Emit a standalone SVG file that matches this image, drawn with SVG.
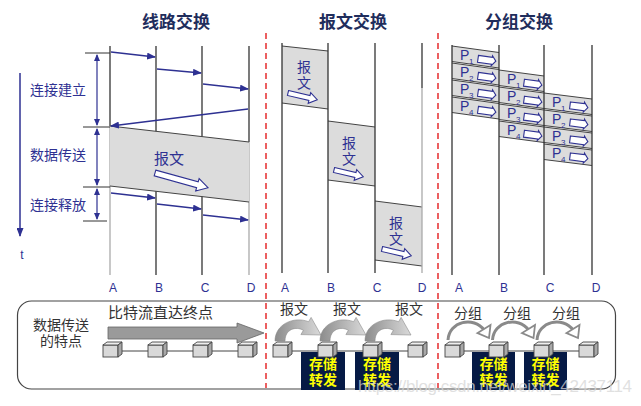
<svg xmlns="http://www.w3.org/2000/svg" width="641" height="406" viewBox="0 0 641 406">
<defs>
<style>
.title{font-family:"Noto Sans CJK SC","Noto Sans",sans-serif;font-size:17px;font-weight:bold;fill:#1f2d5c;text-anchor:middle}
.lbl{font-family:"Noto Sans CJK SC",sans-serif;font-size:14px;fill:#2e3192;text-anchor:middle}
.abcd{font-family:"Liberation Sans",sans-serif;font-size:12px;fill:#2e3192;text-anchor:middle}
.pt{font-family:"Liberation Sans",sans-serif;font-size:14px;fill:#2e3192}
.ps{font-family:"Liberation Sans",sans-serif;font-size:8px;fill:#2e3192}
.tl{stroke:#333;stroke-width:1.3}
.tlg{stroke:#aaa;stroke-width:1.3}
.conn{stroke:#2e3192;stroke-width:1.5;fill:none;marker-end:url(#ah)}
.dim{stroke:#2e3192;stroke-width:1.2;fill:none;marker-start:url(#dh);marker-end:url(#dh)}
.tick{stroke:#333;stroke-width:1}
.band{fill:#dcdcdc;stroke:none}
.edge{stroke:#444;stroke-width:1;fill:none}
.hollow{fill:#fff;stroke:#2e3192;stroke-width:1.1}
.red{stroke:#e8393a;stroke-width:1.6;stroke-dasharray:6 4;fill:none}
.btxt{font-family:"Noto Sans CJK SC",sans-serif;font-size:14px;fill:#333;text-anchor:middle}
.btl{font-family:"Noto Sans CJK SC",sans-serif;font-size:15px;fill:#333;text-anchor:start}
.sf{fill:#061a45}
.sft{font-family:"Noto Sans CJK SC",sans-serif;font-size:14px;font-weight:bold;fill:#ffff00;text-anchor:middle}
.nf{fill:#d9d9d9;stroke:#444;stroke-width:0.9}
.nt{fill:#efefef;stroke:#444;stroke-width:0.9}
.nr{fill:#a8a8a8;stroke:#444;stroke-width:0.9}
.nline{stroke:#444;stroke-width:1}
.thick{fill:url(#cg);stroke:#8a8a8a;stroke-width:0.6}
.thin{stroke:#8a8a8a;stroke-width:3;fill:none}
.chev{fill:#fff;stroke:#8a8a8a;stroke-width:1.8}
</style>
<marker id="ah" markerWidth="9" markerHeight="7" refX="8" refY="3.5" orient="auto" markerUnits="userSpaceOnUse"><path d="M0,0 L9,3.5 L0,7 z" fill="#2e3192"/></marker>
<marker id="dh" markerWidth="7" markerHeight="7" refX="6" refY="3" orient="auto-start-reverse" markerUnits="userSpaceOnUse"><path d="M0,0 L7,3 L0,6 z" fill="#2e3192"/></marker>
<linearGradient id="cg" x1="0" y1="0" x2="1" y2="0"><stop offset="0" stop-color="#8c8c8c"/><stop offset="1" stop-color="#dadada"/></linearGradient>
<path id="ha" d="M0,-3 L44,-3 L44,-6.5 L55,0 L44,6.5 L44,3 L0,3 Z"/>
<path id="hm" d="M0,-2.5 L22,-2.5 L22,-5.5 L30,0 L22,5.5 L22,2.5 L0,2.5 Z"/>
<path id="hp" d="M0,-3.5 L14,-3.5 L14,-5 L18,0 L14,5 L14,3.5 L0,3.5 Z"/>
<g id="node"><rect class="nf" x="0" y="3" width="15" height="12"/><path class="nt" d="M0,3 L4,0 L19,0 L15,3 Z"/><path class="nr" d="M15,3 L19,0 L19,12 L15,15 Z"/></g>
<path id="bigarc" class="thick" d="M275,341 C275,324 294,316 308.6,321.7 L311.1,317.4 L321,335 L300.9,334.6 L303.4,330.3 C296,326 285,329 285,341 Z"/>
<g id="smallarc"><path class="thin" d="M448,340 C449,321 474,316 484,330"/><path class="chev" d="M490.5,325 L489,338 L477.5,333 Z"/></g>
</defs>

<!-- titles -->
<text class="title" x="176" y="28">线路交换</text>
<text class="title" x="353" y="28">报文交换</text>
<text class="title" x="519" y="28">分组交换</text>

<!-- separators -->
<line class="red" x1="266" y1="33" x2="266" y2="388"/>
<line class="red" x1="438" y1="33" x2="438" y2="388"/>

<!-- circuit switching -->
<g id="circuit">
  <line class="tl" x1="110" y1="46" x2="110" y2="126"/>
  <line class="tlg" x1="110" y1="126" x2="110" y2="275"/>
  <line class="tl" x1="156" y1="46" x2="156" y2="275"/>
  <line class="tl" x1="202" y1="46" x2="202" y2="275"/>
  <line class="tl" x1="249" y1="46" x2="249" y2="142"/>
  <line class="tlg" x1="249" y1="142" x2="249" y2="275"/>
  <polygon class="band" points="110,126 249,142 249,202 110,186"/>
  <line class="edge" x1="110" y1="126" x2="249" y2="142"/>
  <line class="edge" x1="110" y1="186" x2="249" y2="202"/>
  <text class="lbl" x="169" y="164" style="font-size:15px">报文</text>
  <use href="#ha" class="hollow" transform="translate(155,173) rotate(15.5)"/>
  <text class="abcd" x="113" y="292">A</text>
  <text class="abcd" x="159" y="292">B</text>
  <text class="abcd" x="205" y="292">C</text>
  <text class="abcd" x="251" y="292">D</text>
</g>
<g id="circuit-labels">
  <line class="tick" x1="85" y1="53" x2="110" y2="53"/>
  <line class="tick" x1="83" y1="127" x2="110" y2="127"/>
  <line class="tick" x1="83" y1="187" x2="110" y2="187"/>
  <line class="tick" x1="83" y1="221" x2="107" y2="221"/>
  <line class="dim" x1="97" y1="55" x2="97" y2="125"/>
  <line class="dim" x1="97" y1="129" x2="97" y2="185"/>
  <line class="dim" x1="97" y1="189" x2="97" y2="219"/>
  <text class="lbl" x="58" y="95">连接建立</text>
  <text class="lbl" x="58" y="160">数据传送</text>
  <text class="lbl" x="58" y="210">连接释放</text>
  <line stroke="#2e3192" stroke-width="1.5" x1="20" y1="73" x2="20" y2="236" marker-end="url(#ah)"/>
  <text class="abcd" x="22" y="259">t</text>
</g>
<g id="circuit-connectors">
  <line class="conn" x1="111" y1="52" x2="155" y2="57"/>
  <line class="conn" x1="157" y1="69" x2="201" y2="73"/>
  <line class="conn" x1="203" y1="84" x2="248" y2="89"/>
  <line class="conn" x1="248" y1="109" x2="111" y2="126"/>
  <line class="conn" x1="111" y1="193" x2="155" y2="198"/>
  <line class="conn" x1="157" y1="204" x2="201" y2="209"/>
  <line class="conn" x1="203" y1="215" x2="248" y2="220"/>
</g>

<!-- message switching -->
<g id="message">
  <polygon class="band" points="282,46 328,51 328,109 282,103"/>
  <line class="edge" x1="282" y1="46" x2="328" y2="51"/>
  <line class="edge" x1="282" y1="103" x2="328" y2="109"/>
  <polygon class="band" points="328,121 375,127 375,186 328,180"/>
  <line class="edge" x1="328" y1="121" x2="375" y2="127"/>
  <line class="edge" x1="328" y1="180" x2="375" y2="186"/>
  <polygon class="band" points="375,201 422,207 422,266 375,260"/>
  <line class="edge" x1="375" y1="201" x2="422" y2="207"/>
  <line class="edge" x1="375" y1="260" x2="422" y2="266"/>
  <line class="tl" x1="282" y1="43" x2="282" y2="273"/>
  <line class="tl" x1="328" y1="43" x2="328" y2="273"/>
  <line class="tl" x1="375" y1="43" x2="375" y2="273"/>
  <line class="tl" x1="422" y1="43" x2="422" y2="88"/>
  <line class="tlg" x1="422" y1="88" x2="422" y2="273"/>
  <text class="lbl" x="304" y="72">报</text>
  <text class="lbl" x="304" y="88">文</text>
  <use href="#hm" class="hollow" transform="translate(288,93) rotate(13)"/>
  <text class="lbl" x="349" y="148">报</text>
  <text class="lbl" x="349" y="164">文</text>
  <use href="#hm" class="hollow" transform="translate(334,170) rotate(13)"/>
  <text class="lbl" x="396" y="228">报</text>
  <text class="lbl" x="396" y="244">文</text>
  <use href="#hm" class="hollow" transform="translate(382,249) rotate(13)"/>
  <text class="abcd" x="285" y="292">A</text>
  <text class="abcd" x="331" y="292">B</text>
  <text class="abcd" x="377" y="292">C</text>
  <text class="abcd" x="422" y="292">D</text>
</g>

<!-- packet switching -->
<g id="packet">
  <g id="ab">
    <polygon class="band" points="452,46 499,52.5 499,68 452,61.5"/>
    <polygon class="band" points="452,63 499,69.5 499,85 452,78.5"/>
    <polygon class="band" points="452,80 499,86.5 499,102 452,95.5"/>
    <polygon class="band" points="452,97 499,103.5 499,119 452,112.5"/>
    <path class="edge" d="M452,46 L499,52.5 M452,61.5 L499,68 M452,63 L499,69.5 M452,78.5 L499,85 M452,80 L499,86.5 M452,95.5 L499,102 M452,97 L499,103.5 M452,112.5 L499,119"/>
  </g>
  <g id="bc">
    <polygon class="band" points="499,70 544,76 544,91.5 499,85.5"/>
    <polygon class="band" points="499,87 544,93 544,108.5 499,102.5"/>
    <polygon class="band" points="499,104 544,110 544,125.5 499,119.5"/>
    <polygon class="band" points="499,121 544,127 544,142.5 499,136.5"/>
    <path class="edge" d="M499,70 L544,76 M499,85.5 L544,91.5 M499,87 L544,93 M499,102.5 L544,108.5 M499,104 L544,110 M499,119.5 L544,125.5 M499,121 L544,127 M499,136.5 L544,142.5"/>
  </g>
  <g id="cd">
    <polygon class="band" points="544,93 592,99 592,114.5 544,108.5"/>
    <polygon class="band" points="544,110 592,116 592,131.5 544,125.5"/>
    <polygon class="band" points="544,127 592,133 592,148.5 544,142.5"/>
    <polygon class="band" points="544,144 592,150 592,165.5 544,159.5"/>
    <path class="edge" d="M544,93 L592,99 M544,108.5 L592,114.5 M544,110 L592,116 M544,125.5 L592,131.5 M544,127 L592,133 M544,142.5 L592,148.5 M544,144 L592,150 M544,159.5 L592,165.5"/>
  </g>
  <line class="tl" x1="452" y1="45" x2="452" y2="275"/>
  <line class="tl" x1="499" y1="45" x2="499" y2="275"/>
  <line class="tl" x1="544" y1="45" x2="544" y2="275"/>
  <line class="tl" x1="592" y1="45" x2="592" y2="275"/>

  <!-- packet labels A-B -->
  <text class="pt" x="460" y="60">P</text><text class="ps" x="469" y="64">1</text>
  <text class="pt" x="460" y="77">P</text><text class="ps" x="469" y="81">2</text>
  <text class="pt" x="460" y="94">P</text><text class="ps" x="469" y="98">3</text>
  <text class="pt" x="460" y="111">P</text><text class="ps" x="469" y="115">4</text>
  <use href="#hp" class="hollow" transform="translate(478,58.8) rotate(7.9)"/>
  <use href="#hp" class="hollow" transform="translate(478,75.8) rotate(7.9)"/>
  <use href="#hp" class="hollow" transform="translate(478,92.8) rotate(7.9)"/>
  <use href="#hp" class="hollow" transform="translate(478,109.8) rotate(7.9)"/>
  <!-- B-C -->
  <text class="pt" x="507" y="84">P</text><text class="ps" x="516" y="88">1</text>
  <text class="pt" x="507" y="101">P</text><text class="ps" x="516" y="105">2</text>
  <text class="pt" x="507" y="118">P</text><text class="ps" x="516" y="122">3</text>
  <text class="pt" x="507" y="135">P</text><text class="ps" x="516" y="139">4</text>
  <use href="#hp" class="hollow" transform="translate(524,82.7) rotate(7.6)"/>
  <use href="#hp" class="hollow" transform="translate(524,99.7) rotate(7.6)"/>
  <use href="#hp" class="hollow" transform="translate(524,116.7) rotate(7.6)"/>
  <use href="#hp" class="hollow" transform="translate(524,133.7) rotate(7.6)"/>
  <!-- C-D -->
  <text class="pt" x="552" y="107">P</text><text class="ps" x="561" y="111">1</text>
  <text class="pt" x="552" y="124">P</text><text class="ps" x="561" y="128">2</text>
  <text class="pt" x="552" y="141">P</text><text class="ps" x="561" y="145">3</text>
  <text class="pt" x="552" y="158">P</text><text class="ps" x="561" y="162">4</text>
  <use href="#hp" class="hollow" transform="translate(570,105.4) rotate(7.1)"/>
  <use href="#hp" class="hollow" transform="translate(570,122.4) rotate(7.1)"/>
  <use href="#hp" class="hollow" transform="translate(570,139.4) rotate(7.1)"/>
  <use href="#hp" class="hollow" transform="translate(570,156.4) rotate(7.1)"/>

  <text class="abcd" x="459" y="292">A</text>
  <text class="abcd" x="504" y="292">B</text>
  <text class="abcd" x="550" y="292">C</text>
  <text class="abcd" x="596" y="292">D</text>
</g>

<!-- bottom panel -->
<g id="features">
  <rect x="17.5" y="301" width="598" height="88" rx="14" ry="14" fill="none" stroke="#444" stroke-width="1.2"/>
  <text class="btxt" x="61" y="330">数据传送</text>
  <text class="btxt" x="61" y="346">的特点</text>
  <text class="btl" x="108" y="318">比特流直达终点</text>
  <path d="M108,327 L237,327 L237,323 L264,333 L237,343 L237,339 L108,339 Z" fill="#9a9a9a" stroke="#666" stroke-width="0.8"/>
</g>
<g id="bottom-connectors">
  <line class="nline" x1="108" y1="351" x2="245" y2="351"/>
  <line class="nline" x1="278" y1="351" x2="415" y2="351"/>
  <line class="nline" x1="450" y1="351" x2="586" y2="351"/>
  <use href="#bigarc"/>
  <use href="#bigarc" transform="translate(45,0)"/>
  <use href="#bigarc" transform="translate(90,0)"/>
  <use href="#smallarc"/>
  <use href="#smallarc" transform="translate(44.5,0)"/>
  <use href="#smallarc" transform="translate(89,0)"/>
</g>
<g id="bottom-labels">
  <text class="btxt" x="294" y="314">报文</text>
  <text class="btxt" x="347" y="314">报文</text>
  <text class="btxt" x="409" y="314">报文</text>
  <text class="btxt" x="468" y="318">分组</text>
  <text class="btxt" x="517" y="318">分组</text>
  <text class="btxt" x="566" y="318">分组</text>
</g>
<g id="store-forward">
  <rect class="sf" x="301" y="352" width="44" height="38"/>
  <text class="sft" x="323" y="369">存储</text><text class="sft" x="323" y="385">转发</text>
  <rect class="sf" x="355" y="352" width="44" height="38"/>
  <text class="sft" x="377" y="369">存储</text><text class="sft" x="377" y="385">转发</text>
  <rect class="sf" x="472" y="352" width="43" height="38"/>
  <text class="sft" x="493.5" y="369">存储</text><text class="sft" x="493.5" y="385">转发</text>
  <rect class="sf" x="524" y="352" width="43" height="38"/>
  <text class="sft" x="545.5" y="369">存储</text><text class="sft" x="545.5" y="385">转发</text>
</g>
<g id="nodes">
  <use href="#node" x="103" y="342"/>
  <use href="#node" x="148" y="342"/>
  <use href="#node" x="193" y="342"/>
  <use href="#node" x="238" y="342"/>
  <use href="#node" x="273" y="342"/>
  <use href="#node" x="318" y="342"/>
  <use href="#node" x="363" y="342"/>
  <use href="#node" x="408" y="342"/>
  <use href="#node" x="445" y="342"/>
  <use href="#node" x="489" y="342"/>
  <use href="#node" x="534" y="342"/>
  <use href="#node" x="579" y="342"/>
</g>
<text x="358" y="392" font-family="Liberation Sans, sans-serif" font-size="17" fill="#d6d6d6" fill-opacity="0.75" textLength="274">https://blog.csdn.net/weixin_42437114</text>
</svg>
